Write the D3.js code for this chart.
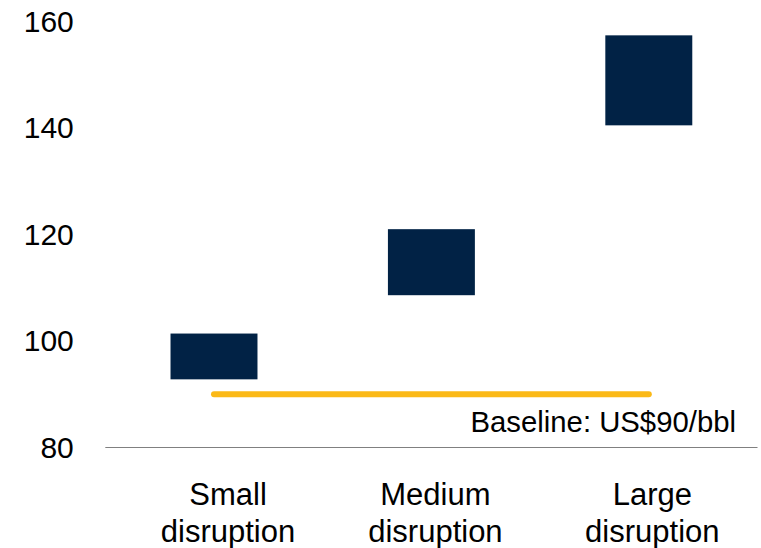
<!DOCTYPE html>
<html>
<head>
<meta charset="utf-8">
<script src="https://cdn.jsdelivr.net/npm/d3@7"></script>
<style>
  html, body { margin: 0; padding: 0; background: #fff; }
  svg { display: block; font-family: "Liberation Sans", Arial, Helvetica, sans-serif; }
</style>
</head>
<body>
<svg id="chart" width="761" height="548"></svg>
<script>
// Oil price range (US$/bbl) under each disruption scenario
const scenarios = ["Small|disruption", "Medium|disruption", "Large|disruption"];
const rangeLow  = [92.8, 108.6, 140.5];
const rangeHigh = [101.4, 121.0, 157.4];
const baselinePrice = 90;
const baselineLabel = "Baseline: US$90/bbl";
const yTicks = [80, 100, 120, 140, 160];

const svg = d3.select("#chart");
const plot = { left: 105.3, right: 757.5, top: 21.5, bottom: 447.5 };
// horizontal nudge of each category label relative to its band centre
const labelNudge = [14, 4, 3.5];

const x = d3.scaleBand()
  .domain(scenarios)
  .range([plot.left, plot.right])
  .paddingInner(0.6)
  .paddingOuter(0.3);

const y = d3.scaleLinear()
  .domain([80, 160])
  .range([plot.bottom, plot.top]);

// y-axis: labels only
const yAxis = svg.append("g")
  .attr("transform", `translate(${plot.left},0)`)
  .call(d3.axisLeft(y).tickValues(yTicks).tickSize(0).tickPadding(31.5).tickFormat(d3.format("d")));
yAxis.select(".domain").remove();
yAxis.selectAll("text")
  .attr("font-size", 30)
  .attr("font-family", "Liberation Sans, Arial, sans-serif")
  .attr("fill", "#000");

// x-axis line
svg.append("line")
  .attr("x1", plot.left).attr("x2", plot.right)
  .attr("y1", y(80)).attr("y2", y(80))
  .attr("stroke", "#808080").attr("stroke-width", 1.2);

// category labels, two lines each
const xl = svg.append("g");
scenarios.forEach((s, k) => {
  const parts = s.split("|");
  const t = xl.append("text")
    .attr("text-anchor", "middle")
    .attr("font-size", 31)
    .attr("fill", "#000")
    .attr("transform", `translate(${x(s) + x.bandwidth() / 2 + labelNudge[k]},505)`);
  parts.forEach((p, i) => {
    t.append("tspan").attr("x", 0).attr("y", i * 37).text(p);
  });
});

// range boxes
svg.append("g").selectAll("rect")
  .data(scenarios)
  .join("rect")
  .attr("x", d => x(d))
  .attr("width", x.bandwidth())
  .attr("y", (d, i) => y(rangeHigh[i]))
  .attr("height", (d, i) => y(rangeLow[i]) - y(rangeHigh[i]))
  .attr("fill", "#012245");

// baseline price line
const cx0 = x(scenarios[0]) + x.bandwidth() / 2;
const cx1 = x(scenarios[scenarios.length - 1]) + x.bandwidth() / 2;
svg.append("line")
  .attr("x1", cx0).attr("x2", cx1)
  .attr("y1", y(baselinePrice)).attr("y2", y(baselinePrice))
  .attr("stroke", "#FBB917")
  .attr("stroke-width", 6)
  .attr("stroke-linecap", "round");

svg.append("text")
  .attr("x", 736)
  .attr("y", 432)
  .attr("text-anchor", "end")
  .attr("font-size", 29.3)
  .attr("fill", "#000")
  .text(baselineLabel);
</script>
</body>
</html>
